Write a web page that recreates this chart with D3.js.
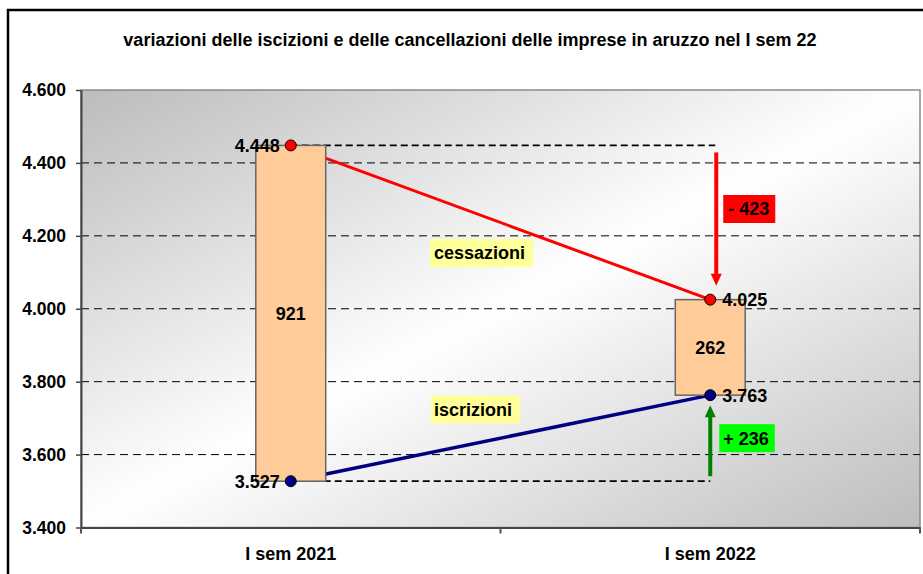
<!DOCTYPE html>
<html>
<head>
<meta charset="utf-8">
<script src="https://cdn.jsdelivr.net/npm/d3@7"></script>
<style>
  body { margin: 0; background: #fff; }
  text { font-family: Arial, "Liberation Sans", sans-serif; font-weight: bold; fill: #000; }
</style>
</head>
<body>
<div id="chart"></div>
<script>
var categories = ["I sem 2021", "I sem 2022"];
var iscrizioni = [3527, 3763];
var cessazioni = [4448, 4025];
var yTicks = [3400, 3600, 3800, 4000, 4200, 4400, 4600];
var title = "variazioni delle iscizioni e delle cancellazioni delle imprese in aruzzo nel I sem 22";

var svgWidth = 923;
var svgHeight = 574;
var plot = { left: 81, right: 920, top: 90, bottom: 527.5 };
var fontSize = "18px";

var it = d3.formatLocale({ decimal: ",", thousands: ".", grouping: [3], currency: ["€", ""] });
var fmt = it.format(",d");

var svg = d3.select("#chart")
  .append("svg")
  .attr("width", svgWidth)
  .attr("height", svgHeight);

// background gradient of the plot area
var defs = svg.append("defs");
var grad = defs.append("linearGradient")
  .attr("id", "bg")
  .attr("x1", "0").attr("y1", "0").attr("x2", "1").attr("y2", "1");
grad.append("stop").attr("offset", "0").attr("stop-color", "#bcbcbc");
grad.append("stop").attr("offset", "0.5").attr("stop-color", "#ffffff");
grad.append("stop").attr("offset", "1").attr("stop-color", "#bdbdbd");

var x = d3.scaleBand()
  .domain(categories)
  .range([plot.left, plot.right]);

var y = d3.scaleLinear()
  .domain([3400, 4600])
  .range([plot.bottom, plot.top]);

var cx = function(i) { return x(categories[i]) + x.bandwidth() / 2; };
var barW = x.bandwidth() / 6;

// outer frame
svg.append("rect")
  .attr("x", 8).attr("y", 10)
  .attr("width", 1000).attr("height", 700)
  .attr("fill", "none")
  .attr("stroke", "#000")
  .attr("stroke-width", 2.5);

svg.append("text")
  .attr("x", 470)
  .attr("y", 46)
  .attr("text-anchor", "middle")
  .attr("font-size", fontSize)
  .text(title);

// plot area
svg.append("rect")
  .attr("x", plot.left).attr("y", plot.top)
  .attr("width", plot.right - plot.left)
  .attr("height", plot.bottom - plot.top)
  .attr("fill", "url(#bg)")
  .attr("stroke", "#8a8a8a")
  .attr("stroke-width", 1.5);

// gridlines
svg.append("g")
  .selectAll("line")
  .data(yTicks.filter(function(d) { return d > 3400 && d < 4600; }))
  .enter()
  .append("line")
  .attr("x1", plot.left).attr("x2", plot.right)
  .attr("y1", function(d) { return y(d); })
  .attr("y2", function(d) { return y(d); })
  .attr("stroke", "#000")
  .attr("stroke-width", 1)
  .attr("stroke-dasharray", "8,5");

// y axis
var leftAxis = d3.axisLeft(y)
  .tickValues(yTicks)
  .tickSize(5)
  .tickSizeOuter(0)
  .tickPadding(10)
  .tickFormat(fmt);

var yAxis = svg.append("g")
  .attr("transform", "translate(" + plot.left + ",0)")
  .call(leftAxis);
yAxis.select(".domain").attr("stroke", "#444").attr("stroke-width", 2);
yAxis.selectAll(".tick line").attr("stroke", "#444").attr("stroke-width", 1.5);
yAxis.selectAll("text").attr("font-size", "17.5px").attr("font-family", null).attr("fill", "#000");

// x axis
var bottomAxis = d3.axisBottom(x).tickSize(0).tickPadding(20);
var xAxis = svg.append("g")
  .attr("transform", "translate(0," + plot.bottom + ")")
  .call(bottomAxis);
xAxis.select(".domain").attr("stroke", "#444").attr("stroke-width", 2);
xAxis.selectAll("text").attr("font-size", fontSize).attr("font-family", null).attr("fill", "#000");

var bounds = categories.map(function(c) { return x(c); }).concat([x.range()[1]]);
svg.append("g")
  .selectAll("line")
  .data(bounds)
  .enter()
  .append("line")
  .attr("x1", function(d) { return d; })
  .attr("x2", function(d) { return d; })
  .attr("y1", plot.bottom)
  .attr("y2", plot.bottom + 6)
  .attr("stroke", "#555")
  .attr("stroke-width", 2);

// dashed reference lines from the 2021 values
var refs = [cessazioni[0], iscrizioni[0]];
svg.append("g")
  .selectAll("line")
  .data(refs)
  .enter()
  .append("line")
  .attr("x1", cx(0))
  .attr("x2", function(d, i) { return cx(1) + (i === 0 ? 5 : 0); })
  .attr("y1", function(d) { return y(d); })
  .attr("y2", function(d) { return y(d); })
  .attr("stroke", "#000")
  .attr("stroke-width", 1.8)
  .attr("stroke-dasharray", "7,4");

// connecting lines
var lineGen = d3.line()
  .x(function(d, i) { return cx(i); })
  .y(function(d) { return y(d); });

svg.append("path")
  .datum(cessazioni)
  .attr("d", lineGen)
  .attr("fill", "none")
  .attr("stroke", "#ff0000")
  .attr("stroke-width", 3);

svg.append("path")
  .datum(iscrizioni)
  .attr("d", lineGen)
  .attr("fill", "none")
  .attr("stroke", "#000080")
  .attr("stroke-width", 3.5);

// floating bars (gap between cessazioni and iscrizioni)
var bars = categories.map(function(c, i) {
  return { cat: c, lo: iscrizioni[i], hi: cessazioni[i] };
});

svg.append("g")
  .selectAll("rect")
  .data(bars)
  .enter()
  .append("rect")
  .attr("x", function(d, i) { return cx(i) - barW / 2; })
  .attr("y", function(d) { return y(d.hi); })
  .attr("width", barW)
  .attr("height", function(d) { return y(d.lo) - y(d.hi); })
  .attr("fill", "#ffcc99")
  .attr("stroke", "#666")
  .attr("stroke-width", 1.5);

svg.append("g")
  .selectAll("text")
  .data(bars)
  .enter()
  .append("text")
  .attr("x", function(d, i) { return cx(i); })
  .attr("y", function(d) { return y((d.hi + d.lo) / 2); })
  .attr("dy", "0.35em")
  .attr("text-anchor", "middle")
  .attr("font-size", fontSize)
  .text(function(d) { return d.hi - d.lo; });

// arrows
var arrowData = [
  { x: cx(1) + 6, from: y(cessazioni[0]) + 7, to: y(cessazioni[1]) - 14, color: "#ff0000" },
  { x: cx(1), from: y(iscrizioni[0]) - 5, to: y(iscrizioni[1]) + 10, color: "#008000" }
];
arrowData.forEach(function(a) {
  var dir = a.to > a.from ? 1 : -1;
  svg.append("line")
    .attr("x1", a.x).attr("x2", a.x)
    .attr("y1", a.from).attr("y2", a.to - dir * 10)
    .attr("stroke", a.color)
    .attr("stroke-width", 4);
  svg.append("path")
    .attr("d", "M" + (a.x - 5.5) + "," + (a.to - dir * 12) + "L" + (a.x + 5.5) + "," + (a.to - dir * 12) + "L" + a.x + "," + a.to + "Z")
    .attr("fill", a.color);
});

// points
var pointGroups = [
  { values: cessazioni, color: "#ff0000" },
  { values: iscrizioni, color: "#000080" }
];
pointGroups.forEach(function(g) {
  svg.append("g")
    .selectAll("circle")
    .data(g.values)
    .enter()
    .append("circle")
    .attr("cx", function(d, i) { return cx(i); })
    .attr("cy", function(d) { return y(d); })
    .attr("r", 5.5)
    .attr("fill", g.color)
    .attr("stroke", "#000")
    .attr("stroke-width", 1);

  svg.append("g")
    .selectAll("text")
    .data(g.values)
    .enter()
    .append("text")
    .attr("x", function(d, i) { return i === 0 ? cx(i) - 11 : cx(i) + 12; })
    .attr("y", function(d) { return y(d); })
    .attr("dy", "0.36em")
    .attr("text-anchor", function(d, i) { return i === 0 ? "end" : "start"; })
    .attr("font-size", fontSize)
    .text(function(d) { return fmt(d); });
});

// boxed labels
function boxLabel(txt, x0, yc, fill, padL, padR, h) {
  var g = svg.append("g");
  var r = g.append("rect").attr("fill", fill);
  var t = g.append("text")
    .attr("x", x0 + padL)
    .attr("y", yc)
    .attr("dy", "0.36em")
    .attr("font-size", fontSize)
    .text(txt);
  var w = t.node().getComputedTextLength();
  r.attr("x", x0).attr("y", yc - h / 2)
    .attr("width", w + padL + padR).attr("height", h);
}

var dCess = cessazioni[1] - cessazioni[0];
var dIscr = iscrizioni[1] - iscrizioni[0];
boxLabel("- " + Math.abs(dCess), cx(1) + 13, 209, "#ff0000", 5, 6, 28);
boxLabel("+ " + dIscr, cx(1) + 9, y((iscrizioni[0] + iscrizioni[1]) / 2), "#00ff00", 4, 6, 28);
boxLabel("cessazioni", 430, 253, "#ffff99", 4, 8, 28);
boxLabel("iscrizioni", 431, 409.5, "#ffff99", 3, 8, 28);
</script>
</body>
</html>
